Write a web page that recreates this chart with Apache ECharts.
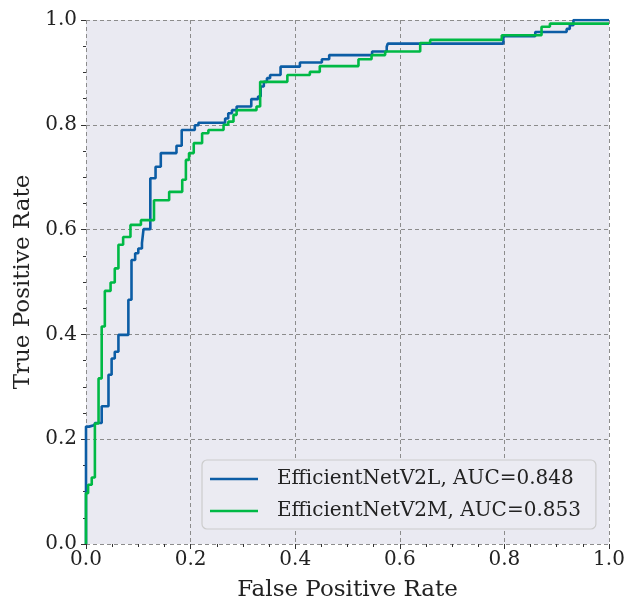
<!DOCTYPE html>
<html>
<head>
<meta charset="utf-8">
<script src="https://cdn.jsdelivr.net/npm/echarts@6/dist/echarts.min.js"></script>
<style>
  html, body { margin: 0; padding: 0; background: #ffffff; }
  #chart { width: 634px; height: 602px; }
</style>
</head>
<body>
<div id="chart"></div>
<script>
// ROC curve vertices
const seriesNames = ['EfficientNetV2L, AUC=0.848', 'EfficientNetV2M, AUC=0.853'];

const fprV2L = [0, 0, 0.006, 0.006, 0.017, 0.017, 0.030, 0.030, 0.043, 0.043, 0.049, 0.049, 0.055, 0.055, 0.062, 0.062, 0.081, 0.081, 0.087, 0.087, 0.094, 0.094, 0.100, 0.100, 0.107, 0.107, 0.110, 0.110, 0.123, 0.123, 0.133, 0.133, 0.143, 0.143, 0.173, 0.173, 0.183, 0.183, 0.208, 0.208, 0.215, 0.215, 0.266, 0.266, 0.272, 0.272, 0.279, 0.279, 0.288, 0.288, 0.316, 0.316, 0.329, 0.329, 0.334, 0.334, 0.340, 0.340, 0.346, 0.346, 0.352, 0.352, 0.372, 0.372, 0.409, 0.409, 0.451, 0.451, 0.465, 0.465, 0.547, 0.547, 0.575, 0.575, 0.577, 0.577, 0.798, 0.798, 0.859, 0.859, 0.919, 0.919, 0.925, 0.925, 0.932, 0.932, 1.0];
const tprV2L = [0, 0.224, 0.224, 0.227, 0.227, 0.231, 0.231, 0.263, 0.263, 0.323, 0.323, 0.354, 0.354, 0.367, 0.367, 0.399, 0.399, 0.466, 0.466, 0.542, 0.542, 0.555, 0.555, 0.564, 0.564, 0.574, 0.574, 0.601, 0.601, 0.698, 0.698, 0.720, 0.720, 0.746, 0.746, 0.760, 0.760, 0.790, 0.790, 0.799, 0.799, 0.804, 0.804, 0.812, 0.812, 0.822, 0.822, 0.828, 0.828, 0.835, 0.835, 0.849, 0.849, 0.854, 0.854, 0.873, 0.873, 0.882, 0.882, 0.889, 0.889, 0.895, 0.895, 0.911, 0.911, 0.919, 0.919, 0.925, 0.925, 0.933, 0.933, 0.940, 0.940, 0.949, 0.949, 0.955, 0.955, 0.969, 0.969, 0.977, 0.977, 0.983, 0.983, 0.990, 0.990, 1.0, 1.0];

const fprV2M = [0, 0, 0.004, 0.004, 0.011, 0.011, 0.017, 0.017, 0.024, 0.024, 0.030, 0.030, 0.036, 0.036, 0.047, 0.047, 0.055, 0.055, 0.062, 0.062, 0.071, 0.071, 0.085, 0.085, 0.105, 0.105, 0.130, 0.130, 0.159, 0.159, 0.184, 0.184, 0.191, 0.191, 0.197, 0.197, 0.206, 0.206, 0.222, 0.222, 0.234, 0.234, 0.263, 0.263, 0.272, 0.272, 0.282, 0.282, 0.288, 0.288, 0.326, 0.326, 0.333, 0.333, 0.385, 0.385, 0.428, 0.428, 0.447, 0.447, 0.521, 0.521, 0.546, 0.546, 0.572, 0.572, 0.639, 0.639, 0.658, 0.658, 0.795, 0.795, 0.871, 0.871, 0.887, 0.887, 1.0];
const tprV2M = [0, 0.097, 0.097, 0.113, 0.113, 0.127, 0.127, 0.230, 0.230, 0.316, 0.316, 0.415, 0.415, 0.483, 0.483, 0.499, 0.499, 0.526, 0.526, 0.571, 0.571, 0.586, 0.586, 0.609, 0.609, 0.618, 0.618, 0.656, 0.656, 0.672, 0.672, 0.695, 0.695, 0.733, 0.733, 0.746, 0.746, 0.765, 0.765, 0.784, 0.784, 0.790, 0.790, 0.800, 0.800, 0.806, 0.806, 0.819, 0.819, 0.828, 0.828, 0.835, 0.835, 0.882, 0.882, 0.895, 0.895, 0.901, 0.901, 0.912, 0.912, 0.925, 0.925, 0.933, 0.933, 0.940, 0.940, 0.956, 0.956, 0.962, 0.962, 0.971, 0.971, 0.987, 0.987, 0.993, 0.993, 1.0, 1.0];

const axisMin = 0, axisMax = 1, axisStep = 0.2;
const xTitle = 'False Positive Rate';
const yTitle = 'True Positive Rate';

const FONT = 'DejaVu Serif';
const zip = (xs, ys) => xs.map((x, i) => [x, ys[i]]);

const chart = echarts.init(document.getElementById('chart'), null, { renderer: 'canvas' });

const gridLine = { show: true, lineStyle: { color: '#8c8c8c', type: [4, 3], width: 1 } };
const labelStyle = { fontFamily: FONT, fontSize: 20, color: '#222' };

const mainAxis = (pos) => ({
  type: 'value', position: pos, min: axisMin, max: axisMax, interval: axisStep,
  axisLine: { show: false }, axisTick: { show: false },
  axisLabel: Object.assign({ formatter: v => v.toFixed(1), margin: pos === 'bottom' ? 6 : 9 }, labelStyle),
  splitLine: gridLine,
  nameLocation: 'middle',
  nameTextStyle: { fontFamily: FONT, fontSize: 23, color: '#222' },
  nameGap: pos === 'bottom' ? 35 : 40
});
const tickAxis = (pos) => ({
  type: 'value', position: pos, min: axisMin, max: axisMax, interval: axisStep,
  axisLine: { show: false },
  axisTick: { show: true, inside: true, length: 5, lineStyle: { color: '#333', width: 1 } },
  minorTick: { show: true, splitNumber: 4, length: 3, lineStyle: { color: '#333', width: 1 } },
  axisLabel: { show: false }, splitLine: { show: false }
});

const xMain = mainAxis('bottom'); xMain.name = xTitle;
const yMain = mainAxis('left'); yMain.name = yTitle;

chart.setOption({
  animation: false,
  backgroundColor: '#ffffff',
  grid: { left: 86, top: 20, width: 523, height: 524, show: true, backgroundColor: '#eaeaf2', borderWidth: 0,
          containLabel: false, outerBoundsMode: 'none' },
  xAxis: [xMain, tickAxis('top')],
  yAxis: [yMain, tickAxis('right')],
  legend: {
    orient: 'vertical', left: 202, top: 460,
    padding: [8, 15, 7, 8], itemGap: 10, itemWidth: 48, itemHeight: 2.6,
    icon: 'rect',
    backgroundColor: '#ebebf2', borderColor: '#cccccc', borderWidth: 1.2, borderRadius: 5,
    textStyle: { fontFamily: FONT, fontSize: 20, color: '#222', lineHeight: 22, padding: [0, 0, 0, 14] },
    data: seriesNames
  },
  series: [
    { name: seriesNames[0], type: 'line', data: zip(fprV2L, tprV2L), symbol: 'none', color: '#0C5DA5',
      lineStyle: { width: 2.6, color: '#0C5DA5' }, xAxisIndex: 0, yAxisIndex: 0 },
    { name: seriesNames[1], type: 'line', data: zip(fprV2M, tprV2M), symbol: 'none', color: '#00B945',
      lineStyle: { width: 2.6, color: '#00B945' }, xAxisIndex: 0, yAxisIndex: 0 }
  ]
});
</script>
</body>
</html>
